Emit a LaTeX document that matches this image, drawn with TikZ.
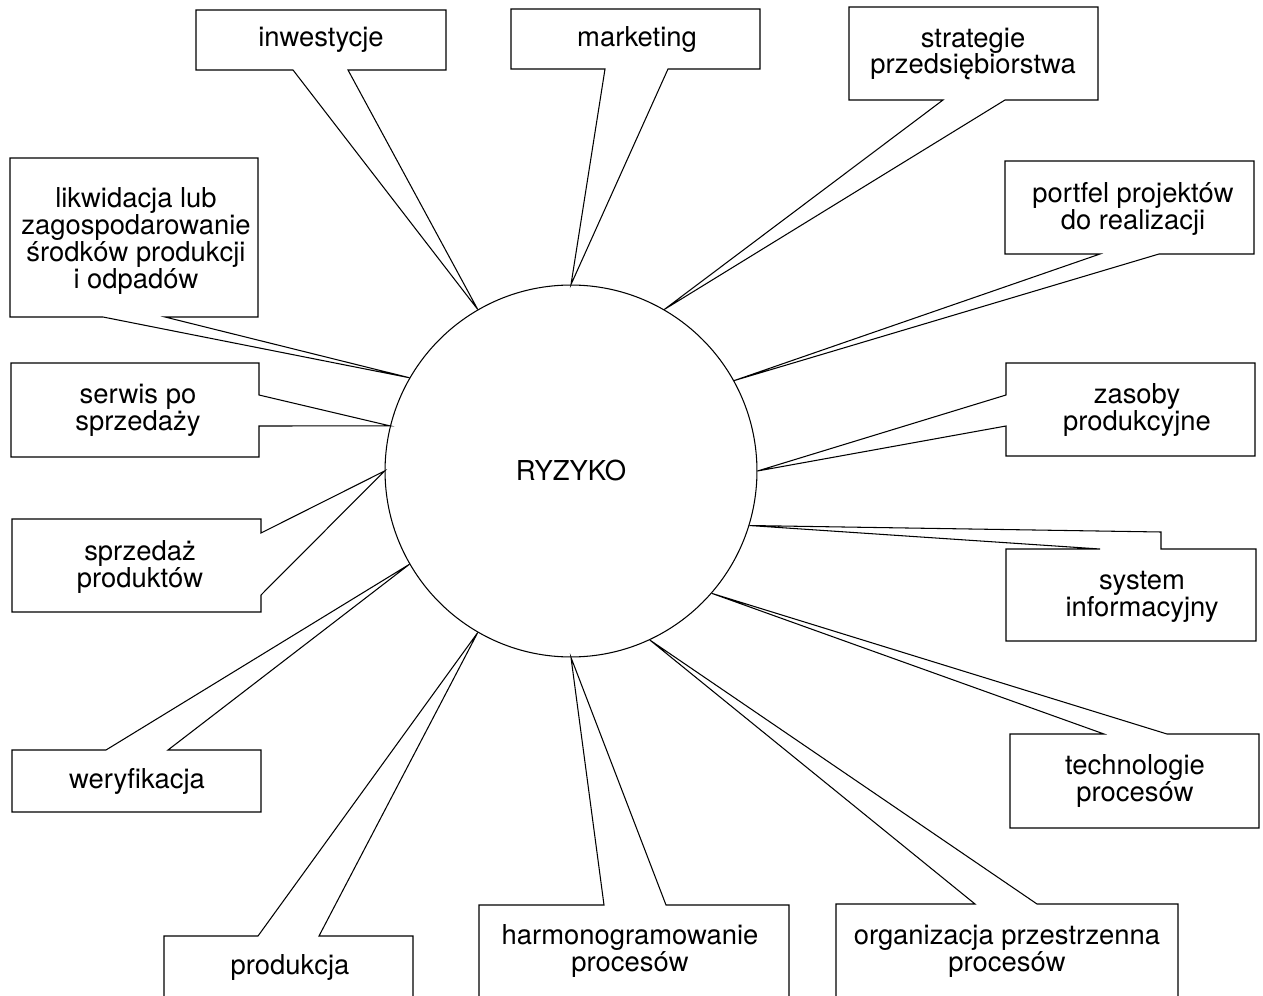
\documentclass[tikz,border=0pt]{standalone}
\usepackage{fontspec}
\setmainfont{TeX Gyre Heros}

\newcommand{\Radius}{7.44cm}

\tikzset{
  lbl/.style={align=center, font=\fontsize{15.6}{15.3}\selectfont, inner sep=0pt},
  callout/.style={draw, line width=0.6pt, line join=miter}
}

\begin{document}
\begin{tikzpicture}[x=0.02cm, y=-0.02cm]
        \path[use as bounding box] (0,0) rectangle (1263,996);
        \clip (0,0) rectangle (1263,996);

        \node[lbl, circle, draw, line width=0.6pt, minimum size=\Radius] (risk) at (571,471) {RYZYKO};

        \node[lbl] (inw) at (321,40) {inwestycje};
        \node[lbl] (mkt) at (637,40) {marketing};
        \node[lbl] (str) at (973,54) {strategie\\przedsiębiorstwa};
        \node[lbl] (lik) at (136,241) {likwidacja lub\\zagospodarowanie\\środków produkcji\\i odpadów};
        \node[lbl] (por) at (1133,209) {portfel projektów\\do realizacji};
        \node[lbl] (ser) at (138,410) {serwis po\\sprzedaży};
        \node[lbl] (zas) at (1137,410) {zasoby\\produkcyjne};
        \node[lbl] (spr) at (140,567) {sprzedaż\\produktów};
        \node[lbl] (sys) at (1142,597) {system\\informacyjny};
        \node[lbl] (wer) at (137,781) {weryfikacja};
        \node[lbl] (tec) at (1135,781) {technologie\\procesów};
        \node[lbl] (pro) at (290,967) {produkcja};
        \node[lbl] (har) at (630,951) {harmonogramowanie\\procesów};
        \node[lbl] (org) at (1007,951) {organizacja przestrzenna\\procesów};

        \draw[callout] (293,70) -- (196,70) -- (196,10) -- (446,10) -- (446,70) -- (348,70) -- (risk.120) -- cycle;% inwestycje
        \draw[callout] (605,69) -- (511,69) -- (511,9) -- (760,9) -- (760,69) -- (668,69) -- (risk.90) -- cycle;% marketing
        \draw[callout] (943,100) -- (849,100) -- (849,7) -- (1098,7) -- (1098,100) -- (1005,100) -- (risk.60) -- cycle;% strategie
        \draw[callout] (103,317) -- (10,317) -- (10,158) -- (258,158) -- (258,317) -- (165,317) -- (risk.150) -- cycle;% likwidacja
        \draw[callout] (1100,254) -- (1005,254) -- (1005,161) -- (1254,161) -- (1254,254) -- (1159,254) -- (risk.29) -- cycle;% portfel
        \draw[callout] (259,395) -- (259,363) -- (11,363) -- (11,457) -- (259,457) -- (259,426) -- (risk.166) -- cycle;% serwis
        \draw[callout] (1006,395) -- (1006,363) -- (1255,363) -- (1255,456) -- (1006,456) -- (1006,426) -- (risk.0) -- cycle;% zasoby
        \draw[callout] (261,533) -- (261,519) -- (12,519) -- (12,612) -- (261,612) -- (261,595) -- (risk.180) -- cycle;% sprzedaz
        \draw[callout] (1100,549) -- (1006,549) -- (1006,641) -- (1256,641) -- (1256,549) -- (1161,549) -- (1161,532) -- (risk.-17) -- cycle;% system
        \draw[callout] (106,750) -- (12,750) -- (12,812) -- (261,812) -- (261,750) -- (168,750) -- (risk.-150) -- cycle;% weryfikacja
        \draw[callout] (1104,734) -- (1010,734) -- (1010,828) -- (1259,828) -- (1259,734) -- (1167,734) -- (risk.-41) -- cycle;% technologie
        \draw[callout] (164,1000) -- (164,936) -- (258,936) -- (risk.-120) -- (319,936) -- (413,936) -- (413,1000);% produkcja
        \draw[callout] (479,1000) -- (479,905) -- (604,905) -- (risk.-90) -- (666,905) -- (789,905) -- (789,1000);% harmonogramowanie
        \draw[callout] (836,1000) -- (836,904) -- (975,904) -- (risk.-65) -- (1037,904) -- (1178,904) -- (1178,1000);% organizacja
\end{tikzpicture}
\end{document}
